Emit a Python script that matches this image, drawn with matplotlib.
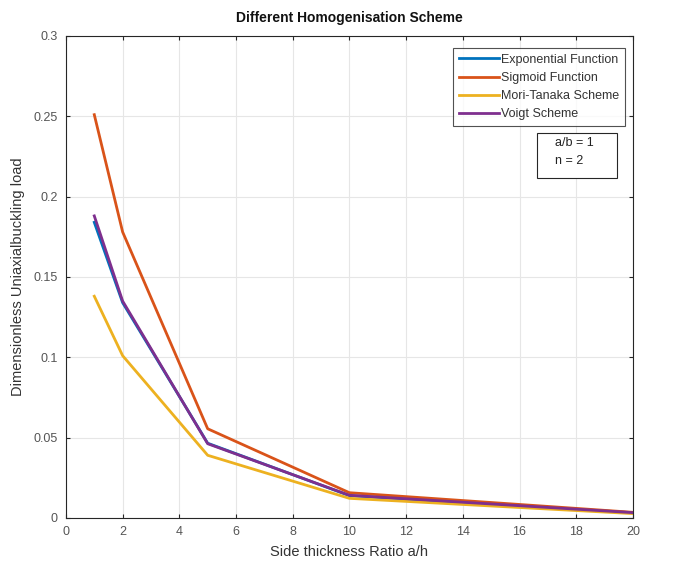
import matplotlib
matplotlib.use("Agg")
import matplotlib.pyplot as plt
from matplotlib.patches import Rectangle

plt.rcParams['font.family'] = ['Liberation Sans', 'DejaVu Sans']

ratio = [1, 2, 5, 10, 20]
exponential = [0.184, 0.134, 0.0465, 0.0139, 0.0032]
sigmoid = [0.251, 0.178, 0.0555, 0.0157, 0.0035]
mori_tanaka = [0.138, 0.101, 0.039, 0.0122, 0.0027]
voigt = [0.188, 0.135, 0.0462, 0.0141, 0.0033]

labels = ["Exponential Function", "Sigmoid Function", "Mori-Tanaka Scheme", "Voigt Scheme"]
colors = ["#0072BD", "#D95319", "#EDB120", "#7E2F8E"]

fig = plt.figure(figsize=(6.94, 5.8), dpi=100)
ax = fig.add_axes([0.095, 0.107, 0.817, 0.831])

for ys, lab, c in zip([exponential, sigmoid, mori_tanaka, voigt], labels, colors):
    ax.plot(ratio, ys, color=c, lw=2, label=lab)

ax.set_xlim(0, 20)
ax.set_ylim(0, 0.3)
ax.set_xticks(range(0, 21, 2))
ax.set_yticks([0, 0.05, 0.1, 0.15, 0.2, 0.25, 0.3])
ax.set_yticklabels(["0", "0.05", "0.1", "0.15", "0.2", "0.25", "0.3"])
ax.grid(True, color="#e6e6e6", lw=0.8)
ax.set_axisbelow(True)
ax.tick_params(direction="in", labelsize=9, labelcolor="#555555", color="#262626", length=3,
               top=True, right=True, labeltop=False, labelright=False, pad=6)
for s in ax.spines.values():
    s.set_color("#262626")
    s.set_linewidth(0.8)
ax.set_xlabel("Side thickness Ratio a/h", fontsize=10.5, color="#333333", labelpad=5)
ax.set_ylabel("Dimensionless Uniaxialbuckling load", fontsize=10.5, color="#333333", labelpad=6)
ax.set_title("Different Homogenisation Scheme", fontsize=10, fontweight="bold", color="#111111", pad=10)

leg = ax.legend(loc="upper right", bbox_to_anchor=(0.986, 0.975), fontsize=9, frameon=True,
                fancybox=False, edgecolor="#262626", handlelength=3.2, handletextpad=0.2,
                borderpad=0.45, labelspacing=0.5, borderaxespad=0)
leg.get_frame().set_linewidth(0.8)
for t in leg.get_texts():
    t.set_color("#333333")

ax.add_patch(Rectangle((0.831, 0.705), 0.141, 0.094, transform=ax.transAxes, fc="white",
                       ec="#262626", lw=0.8, zorder=5))
ax.text(0.862, 0.778, "a/b = 1", transform=ax.transAxes, fontsize=9, va="center", ha="left",
        color="#222222", zorder=6)
ax.text(0.862, 0.740, "n = 2", transform=ax.transAxes, fontsize=9, va="center", ha="left",
        color="#222222", zorder=6)

fig.savefig("out.png", dpi=100)
